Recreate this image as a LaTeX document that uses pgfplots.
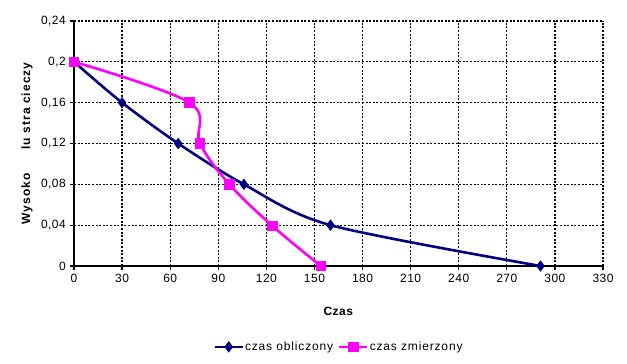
\documentclass[border=0pt]{standalone}
\usepackage{pgfplots}
\pgfplotsset{compat=1.18}
\usepackage{fontspec}
\setmainfont[LetterSpace=4]{Liberation Sans}
\newfontfamily\legfont[LetterSpace=7]{Liberation Sans}
\newfontfamily\ylabfont[LetterSpace=9]{Liberation Sans}
\definecolor{navy}{HTML}{000080}
\definecolor{mag}{HTML}{FF00FF}
\begin{document}
\fontsize{12}{14}\selectfont
\begin{tikzpicture}
\path[use as bounding box] (-74pt,-98pt) rectangle (553pt,266pt);
\begin{axis}[
  scale only axis, width=529pt, height=245pt,
  at={(0,0)}, anchor=south west,
  xmin=0, xmax=330, ymin=0, ymax=0.24,
  xtick={0,30,...,330},
  ytick={0,0.04,0.08,0.12,0.16,0.2,0.24},
  yticklabels={0,{0,04},{0,08},{0,12},{0,16},{0,2},{0,24}},
  /pgf/number format/assume math mode=true,
  axis x line=bottom, axis y line=left,
  axis line style={-, line width=1.6pt, black},
  grid=major,
  major grid style={black, dash pattern=on 2pt off 1.6pt, line width=1.2pt},
  tick align=outside, major tick length=4pt,
  tick style={black, line width=1.3pt},
  tick label style={font=\fontsize{12}{14}\selectfont},
  xlabel={\textbf{Czas}}, ylabel={\ylabfont\bfseries Wysoko\hspace{2em}lu\hspace{0.35em}stra cieczy},
  label style={font=\fontsize{12}{14}\selectfont},
  xlabel style={at={(0.5,-0.185)}, anchor=center},
  ylabel style={at={(-0.089,0.5)}, anchor=center},
  legend style={at={(0.5,-0.33)}, anchor=center, draw=none, legend columns=2,
    font=\legfont\fontsize{12}{14}\selectfont, column sep=0pt, inner sep=0pt,
    nodes={inner sep=1pt},
    /tikz/every even column/.append style={column sep=4pt}},
  legend image code/.code={\draw[mark repeat=2,mark phase=2] plot coordinates {(0pt,0pt)(14pt,0pt)(28pt,0pt)};},
  legend cell align=left,
  clip=false,
]
\addplot[navy, line width=2.6pt, smooth, tension=0.5, mark=diamond*, mark size=3.6pt, mark options={solid, fill=navy}]
 coordinates {(0,0.2) (30,0.16) (65,0.12) (106,0.08) (160,0.04) (291,0)};
\addlegendentry{czas obliczony}
\addplot[mag, line width=2.6pt, smooth, tension=0.6, mark=square*, mark size=4pt, mark options={solid, fill=mag}]
 coordinates {(0,0.2) (72,0.16) (78.6,0.12) (97,0.08) (124,0.039) (154,0)};
\addlegendentry{czas zmierzony}
\end{axis}
\end{tikzpicture}
\end{document}
